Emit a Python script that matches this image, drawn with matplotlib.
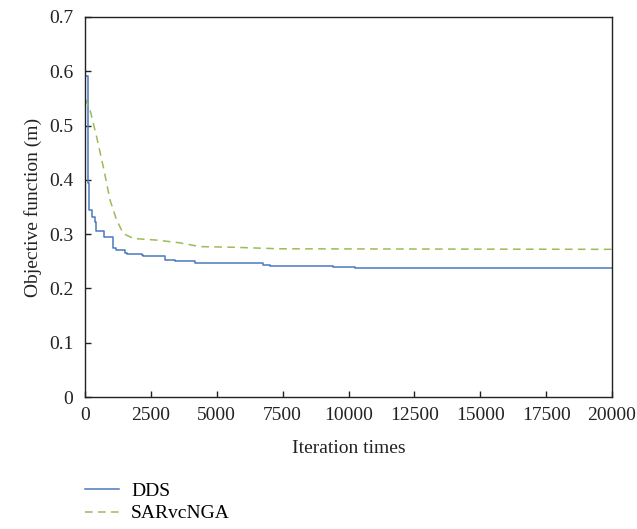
import matplotlib
matplotlib.use("Agg")
import matplotlib.pyplot as plt

plt.rcParams['font.family'] = ['Liberation Serif', 'DejaVu Serif']

# DDS (step-wise best objective)
dds_iter = [0, 60, 100, 120, 165, 250, 380, 420, 720, 1075, 1180, 1520, 1580, 2150, 2200,
            3036, 3400, 3730, 4175, 6770, 7020, 9410, 10250, 20000]
dds_val = [0.591, 0.591, 0.50, 0.394, 0.344, 0.332, 0.323, 0.306, 0.295, 0.275, 0.271,
           0.266, 0.263, 0.262, 0.260, 0.252, 0.251, 0.250, 0.246, 0.243, 0.241, 0.240,
           0.238, 0.238]

# SARvcNGA
sar_iter = [0, 190, 443, 695, 950, 1200, 1455, 1835, 2720, 3600, 4365, 5500, 7400, 20000]
sar_val = [0.550, 0.529, 0.479, 0.424, 0.363, 0.326, 0.301, 0.292, 0.289, 0.284, 0.277,
           0.276, 0.273, 0.272]

xticks = [0, 2500, 5000, 7500, 10000, 12500, 15000, 17500, 20000]
yticks = [0, 0.1, 0.2, 0.3, 0.4, 0.5, 0.6, 0.7]

fig = plt.figure(figsize=(6.37, 5.29), dpi=100)
ax = fig.add_axes([0.1334, 0.2495, 0.8274, 0.7184])

l1, = ax.plot(dds_iter, dds_val, color='#4a78c0', lw=1.1, drawstyle='steps-post', label='DDS')
l2, = ax.plot(sar_iter, sar_val, color='#9bbb59', lw=1.1, ls=(0, (5, 3.5)), label='SARvcNGA')

ax.set_xlim(0, 20000)
ax.set_ylim(0, 0.7)
ax.set_xticks(xticks)
ax.set_xticklabels([str(t) for t in xticks])
ax.set_yticks(yticks)
ax.set_yticklabels(['0' if t == 0 else f'{t:.1f}' for t in yticks])
ax.tick_params(direction='in', labelsize=14, length=4, width=1, colors='#222222')
ax.tick_params(axis='y', pad=8.5)
ax.tick_params(axis='x', pad=7)
for s in ax.spines.values():
    s.set_linewidth(1.0)
    s.set_color('#222222')
ax.set_xlabel('Iteration times', fontsize=14, color='#222222', labelpad=12)
ax.set_ylabel('Objective function (m)', fontsize=14, color='#222222', labelpad=5)

fig.legend(handles=[l1, l2], loc='upper left', bbox_to_anchor=(0.121, 0.103),
           frameon=False, fontsize=14, handlelength=1.75, labelspacing=0.25,
           handletextpad=0.62, borderaxespad=0)

fig.savefig('out.png', dpi=100)
